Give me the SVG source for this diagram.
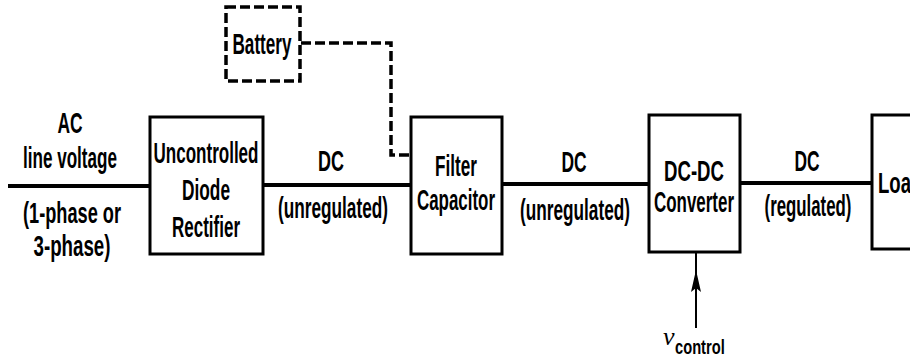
<svg xmlns="http://www.w3.org/2000/svg" width="910" height="360" viewBox="0 0 910 360">
  <style>
    .box { fill: #fff; stroke: #000; stroke-width: 3; }
    .dash { fill: none; stroke: #000; stroke-width: 3.5; stroke-dasharray: 10 4; }
    .wire { fill: none; stroke: #000; stroke-width: 4; }
    .thin { fill: none; stroke: #000; stroke-width: 2; }
    text { font-family: "Liberation Sans", Arial, sans-serif; font-size: 30px; font-weight: bold; fill: #000; }
    .c { text-anchor: middle; }
    .v { font-family: "Liberation Serif", "Times New Roman", serif; font-style: italic; font-weight: normal; font-size: 26px; }
    .sub { font-size: 21px; }
  </style>
  <defs>
    <marker id="arr" viewBox="0 0 22 10" refX="22" refY="5" markerWidth="22" markerHeight="10" markerUnits="userSpaceOnUse" orient="auto">
      <path d="M22,5 L0,0 L4,5 L0,10 Z" fill="#000"/>
    </marker>
  </defs>
  <rect width="910" height="360" fill="#fff"/>

  <g id="connectors">
    <line class="wire" x1="8" y1="186" x2="150" y2="186"/>
    <line class="wire" x1="263" y1="185" x2="411" y2="185"/>
    <line class="wire" x1="502" y1="184" x2="649" y2="184"/>
    <line class="wire" x1="740" y1="183" x2="872" y2="183"/>
    <polyline class="dash" points="301,43 391,43 391,155 411,155"/>
    <path class="thin" d="M696,328 L696,270 L696,252" marker-mid="url(#arr)"/>
  </g>

  <g id="labels">
    <text class="c" transform="translate(70,133) scale(0.58,1)">AC</text>
    <text class="c" transform="translate(70,168) scale(0.57,1)">line voltage</text>
    <text class="c" transform="translate(72,223) scale(0.606,1)">(1-phase or</text>
    <text class="c" transform="translate(72,256) scale(0.624,1)">3-phase)</text>
    <text class="c" transform="translate(331,171) scale(0.6,1)">DC</text>
    <text class="c" transform="translate(333,218) scale(0.574,1)">(unregulated)</text>
    <text class="c" transform="translate(574,172) scale(0.58,1)">DC</text>
    <text class="c" transform="translate(575,220) scale(0.574,1)">(unregulated)</text>
    <text class="c" transform="translate(807,171) scale(0.58,1)">DC</text>
    <text class="c" transform="translate(808,216) scale(0.561,1)">(regulated)</text>
    <text x="663" y="345" class="v">v</text>
    <text class="sub" transform="translate(675,354) scale(0.7,1)">control</text>
  </g>

  <g id="rectifier">
    <rect class="box" x="150" y="117" width="113" height="137"/>
    <text class="c" transform="translate(206,163) scale(0.568,1)">Uncontrolled</text>
    <text class="c" transform="translate(206,200) scale(0.576,1)">Diode</text>
    <text class="c" transform="translate(206,237) scale(0.567,1)">Rectifier</text>
  </g>

  <g id="battery">
    <rect class="dash" x="226" y="7" width="74" height="74"/>
    <text class="c" transform="translate(262,54) scale(0.571,1)">Battery</text>
  </g>

  <g id="filter">
    <rect class="box" x="411" y="117" width="91" height="137"/>
    <text class="c" transform="translate(456,176) scale(0.572,1)">Filter</text>
    <text class="c" transform="translate(456,210) scale(0.564,1)">Capacitor</text>
  </g>

  <g id="dcdc">
    <rect class="box" x="649" y="115" width="91" height="137"/>
    <text class="c" transform="translate(694,181) scale(0.621,1)">DC-DC</text>
    <text class="c" transform="translate(694,212) scale(0.565,1)">Converter</text>
  </g>

  <g id="load">
    <rect class="box" x="872" y="115" width="60" height="134"/>
    <text transform="translate(878,193) scale(0.62,1)">Load</text>
  </g>
</svg>
